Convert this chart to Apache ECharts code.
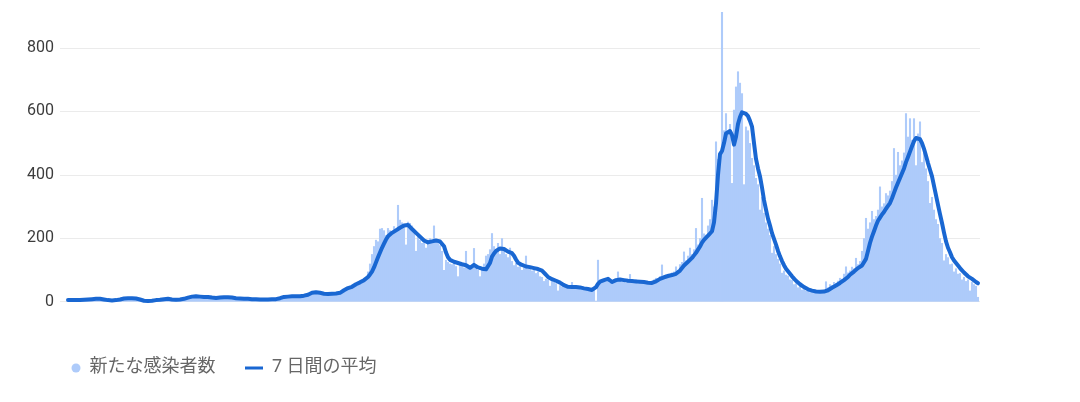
<!DOCTYPE html>
<html>
<head>
<meta charset="utf-8">
<script src="https://cdn.jsdelivr.net/npm/echarts@6/dist/echarts.min.js"></script>
<style>
html,body{margin:0;padding:0;background:#fff;}
#chart{width:1080px;height:402px;}
</style>
</head>
<body>
<div id="chart"></div>
<script>
// Daily new cases (bars), one value per day
const dailyCases = [
4,6,5,7,3,5,6,4,7,6,
8,6,9,7,10,8,11,7,6,7,
4,5,3,4,6,5,8,9,11,10,
13,10,12,9,11,10,6,5,2,3,
1,3,2,4,6,5,7,6,9,8,
10,7,8,5,7,5,8,7,10,12,
14,16,15,19,16,18,15,17,14,16,
14,15,12,13,11,14,12,15,13,14,
16,13,14,11,12,10,11,9,10,8,
10,8,9,7,9,6,8,7,6,8,
6,8,7,9,8,10,12,14,16,14,
18,15,19,16,18,16,17,19,20,21,
24,27,31,28,33,27,30,26,24,25,
22,26,24,27,25,29,30,35,38,44,
45,40,52,48,58,55,66,60,70,75,
95,120,150,175,195,190,230,232,225,210,
232,225,218,238,228,305,258,250,236,180,
252,248,240,225,160,205,195,185,190,170,
195,200,185,240,192,186,178,160,100,132,
125,120,118,128,112,80,118,112,108,160,
110,115,108,169,112,100,80,102,120,145,
150,165,216,175,160,185,150,200,165,150,
140,170,128,115,122,110,118,100,108,145,
104,110,98,102,90,95,80,78,65,72,
70,50,66,62,58,35,52,48,50,44,
48,45,62,47,44,50,40,43,38,42,
36,38,35,42,3,132,60,66,70,64,
75,60,64,70,68,95,66,62,70,60,
68,87,60,66,70,58,62,64,57,62,
55,58,66,70,75,72,80,117,78,85,
88,82,92,95,111,100,118,125,158,130,
145,170,150,165,232,180,200,327,215,211,
240,260,321,300,505,450,470,913,540,594,
531,560,374,605,678,726,690,657,370,552,
540,500,453,430,390,370,290,330,280,250,
230,210,154,175,150,135,120,91,98,85,
82,70,68,55,58,45,50,38,42,35,
38,30,34,28,33,30,29,35,34,64,
45,55,52,62,58,66,75,72,88,111,
92,98,110,105,138,118,128,160,200,264,
230,250,286,260,270,290,363,300,310,342,
335,350,380,484,400,472,430,445,470,594,
520,578,510,578,430,530,568,440,470,420,
380,311,330,290,260,245,200,185,130,150,
140,118,120,95,105,88,90,70,78,65,
70,35,62,55,50,15
];

// 7-day average (line), one value per day
const sevenDayAvg = [
5,5,5,5,5,5,5,5,6,6,
7,7,8,8,9,9,9,8,7,6,
5,4,4,4,5,6,7,9,10,11,
11,11,11,11,10,9,7,5,3,2,
2,2,3,4,5,6,6,7,8,9,
9,8,7,6,6,6,7,8,9,11,
13,15,16,17,17,17,16,16,15,15,
15,14,13,12,12,12,13,14,14,13,
14,14,13,12,11,11,10,10,9,9,
9,9,8,8,8,7,7,7,7,7,
7,7,8,8,8,9,11,13,15,15,
16,16,17,17,17,17,17,18,19,20,
22,25,28,30,30,29,28,27,25,24,
24,24,25,25,26,27,28,32,36,41,
43,45,47,50,55,58,61,64,68,72,
78,86,95,108,124,140,155,170,183,196,
206,212,217,221,225,229,233,237,240,243,
242,236,229,223,217,211,205,199,193,188,
187,188,190,192,193,192,190,186,175,155,
140,132,128,126,124,122,120,118,117,115,
110,107,110,116,114,108,106,104,103,102,
104,122,142,152,160,165,168,169,166,161,
158,155,153,145,133,123,119,116,113,111,
110,109,107,106,104,103,101,98,92,85,
78,74,71,68,66,64,60,56,52,48,
47,46,46,46,46,46,45,44,42,41,
40,38,37,40,46,56,63,66,68,70,
72,72,62,64,68,71,70,69,68,67,
66,66,65,65,64,64,63,62,62,61,
60,59,59,61,64,68,72,75,77,79,
81,82,84,86,88,92,98,106,114,120,
126,132,138,146,154,164,174,186,195,200,
208,215,222,250,310,400,465,475,500,530,
536,538,525,495,520,560,582,597,600,592,
585,570,552,500,450,420,395,360,320,290,
262,240,216,198,180,160,143,128,115,104,
96,88,80,73,66,60,55,50,46,42,
39,37,35,33,32,32,31,31,32,33,
36,40,44,47,51,55,59,63,68,73,
78,85,90,95,100,106,110,114,120,135,
160,185,205,222,240,255,265,275,283,293,
302,311,326,343,360,375,390,405,420,440,
456,473,490,506,516,519,512,500,482,460,
437,416,395,365,335,305,276,248,218,190,
170,156,140,130,122,114,106,99,92,86,
80,76,72,67,62,58
];

const yTicks = [0, 200, 400, 600, 800];
const yMax = 951;
const seriesNames = ['新たな感染者数', '7 日間の平均'];

const barData = dailyCases.map((v, i) => [i, v]);
const lineData = sevenDayAvg.map((v, i) => [i, v]);

const FONT = "Roboto, 'Noto Sans CJK JP', sans-serif";
const GRID = '#ebebeb';
const chart = echarts.init(document.getElementById('chart'), null, {renderer: 'canvas'});
chart.setOption({
  animation: false,
  backgroundColor: '#ffffff',
  grid: {left: 60, right: 100, top: 0, bottom: 100.3, containLabel: false},
  xAxis: {
    type: 'value', min: -4, max: 456,
    show: false,
    splitLine: {show: false}
  },
  yAxis: {
    type: 'value', min: 0, max: yMax, interval: 200,
    axisLine: {show: false}, axisTick: {show: false},
    axisLabel: {
      color: '#3c3c3c', fontSize: 16, fontFamily: FONT, margin: 6,
      formatter: v => (yTicks.indexOf(v) >= 0 ? String(v) : '')
    },
    splitLine: {lineStyle: {color: [GRID, GRID, GRID, GRID, GRID, '#ffffff'], width: 1}}
  },
  legend: [
    {
      data: [{name: seriesNames[0], icon: 'circle'}],
      left: 71.5, top: 359, padding: 0, itemWidth: 9, itemHeight: 9,
      textStyle: {color: '#666', fontSize: 18, fontFamily: FONT, padding: [0, 0, 0, 4]}
    },
    {
      data: [{name: seriesNames[1], icon: 'rect'}],
      left: 245, top: 359, padding: 0, itemWidth: 18, itemHeight: 3,
      textStyle: {color: '#666', fontSize: 18, fontFamily: FONT, padding: [0, 0, 0, 4]}
    }
  ],
  series: [
    {
      name: seriesNames[0], type: 'bar', data: barData,
      barWidth: 2.1, barGap: '0%',
      itemStyle: {color: '#aecbfa'},
      z: 1
    },
    {
      name: seriesNames[1], type: 'line', data: lineData,
      showSymbol: false, symbol: 'none',
      lineStyle: {color: '#1967d2', width: 4, join: 'round', cap: 'round'},
      itemStyle: {color: '#1967d2'},
      z: 3
    }
  ]
});
</script>
</body>
</html>
